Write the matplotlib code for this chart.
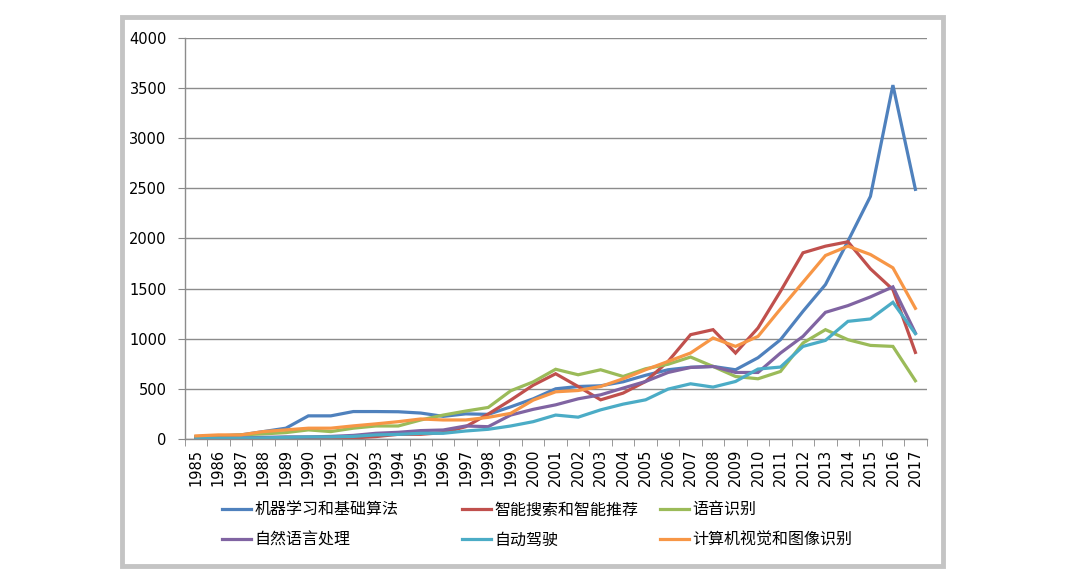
import numpy as np
import matplotlib
matplotlib.use("Agg")
from matplotlib import pyplot as plt
from matplotlib.patches import Rectangle

plt.rcParams['font.family'] = ['DejaVu Sans', 'Noto Sans CJK SC']

years = [str(y) for y in range(1985, 2018)]

# 机器学习和基础算法
ml = [23, 30, 40, 73, 107, 230, 230, 273, 273, 271, 258, 225, 250, 245, 320, 400, 500,
      523, 530, 570, 635, 690, 715, 723, 690, 810, 990, 1273, 1540, 1973, 2420, 3530, 2490]
# 智能搜索和智能推荐
search = [5, 5, 5, 5, 5, 5, 5, 10, 23, 46, 46, 63, 122, 248, 387, 536, 650,
          523, 390, 457, 573, 773, 1040, 1090, 857, 1107, 1473, 1857, 1923, 1967, 1697, 1490, 863]
# 语音识别
speech = [20, 25, 40, 50, 63, 90, 73, 107, 129, 129, 189, 238, 278, 314, 480, 569, 695,
          640, 690, 623, 700, 745, 817, 723, 623, 600, 673, 957, 1090, 990, 933, 923, 580]
# 自然语言处理
nlp = [5, 8, 10, 15, 20, 20, 25, 35, 56, 66, 83, 89, 129, 122, 238, 295, 340,
       400, 440, 507, 573, 663, 713, 723, 663, 663, 857, 1023, 1263, 1330, 1417, 1517, 1057]
# 自动驾驶
auto = [5, 5, 8, 10, 15, 20, 20, 25, 40, 45, 56, 56, 79, 96, 129, 172, 238,
        217, 290, 347, 390, 497, 550, 517, 573, 697, 717, 923, 983, 1173, 1197, 1363, 1050]
# 计算机视觉和图像识别
cv = [30, 40, 40, 73, 90, 107, 107, 130, 150, 172, 199, 189, 189, 215, 255, 387, 470,
      483, 523, 600, 690, 773, 857, 1007, 923, 1023, 1297, 1563, 1830, 1923, 1840, 1707, 1303]

names = ['机器学习和基础算法', '智能搜索和智能推荐', '语音识别',
         '自然语言处理', '自动驾驶', '计算机视觉和图像识别']
series = [ml, search, speech, nlp, auto, cv]
colors = ['#4F81BD', '#C0504D', '#9BBB59', '#8064A2', '#4BACC6', '#F79646']

fig = plt.figure(figsize=(10.8, 5.76), dpi=100)
ax = fig.add_axes([0.171, 0.238, 0.687, 0.696])

x = np.arange(len(years))
lines = []
for vals, name, c in zip(series, names, colors):
    ln, = ax.plot(x, vals, color=c, lw=2.3, label=name, solid_joinstyle='miter')
    lines.append(ln)

ax.set_xlim(-0.5, len(years) - 0.5)
ax.set_ylim(0, 4000)
ax.set_yticks(np.arange(0, 4001, 500))
ax.set_xticks(x)
ax.set_xticklabels(years, rotation=90, fontsize=10.5)
ax.set_xticks(np.arange(-0.5, len(years), 1), minor=True)
ax.tick_params(axis='x', which='major', length=0, pad=7)
ax.tick_params(axis='x', which='minor', length=5, color='#888888', direction='out')
ax.tick_params(axis='y', labelsize=10.5, length=5, color='#888888', pad=8)

ax.grid(axis='y', color='#8c8c8c', lw=1)
ax.set_axisbelow(True)
for s in ['top', 'right']:
    ax.spines[s].set_visible(False)
for s in ['left', 'bottom']:
    ax.spines[s].set_color('#8c8c8c')
    ax.spines[s].set_linewidth(1)

# legend: one small legend per column, placed like the Excel layout
col_x = [222, 462, 660]
for k, cx in enumerate(col_x):
    idx = [k, k + 3]
    leg = fig.legend([lines[i] for i in idx], [names[i] for i in idx],
                     loc='center left', bbox_to_anchor=(cx / 1080, 1 - 525 / 576),
                     frameon=False, fontsize=11.5, handlelength=1.8,
                     handletextpad=0.25, labelspacing=0.95, borderpad=0,
                     borderaxespad=0)

# outer frame
fig.patches.append(Rectangle((122 / 1080, 1 - 566 / 576), 821 / 1080, 549 / 576,
                             transform=fig.transFigure, fill=False,
                             edgecolor='#c4c4c4', lw=3.5))

fig.savefig('out.png', dpi=100)
